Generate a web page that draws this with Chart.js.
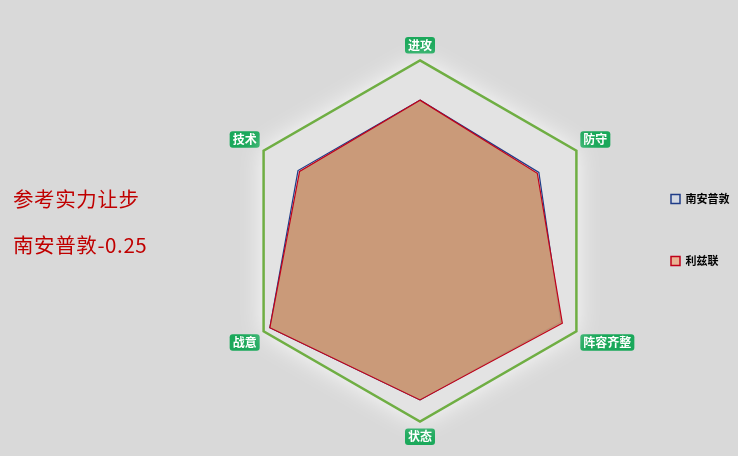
<!DOCTYPE html>
<html>
<head>
<meta charset="utf-8">
<script src="https://cdn.jsdelivr.net/npm/chart.js@4.4.0/dist/chart.umd.min.js"></script>
<style>
  html, body { margin: 0; padding: 0; background: #d9d9d9; }
  #wrap { position: relative; width: 738px; height: 456px; }
  #note { position: absolute; left: 13px; top: 175px; color: #c00000; letter-spacing: 0.6px;
          font-family: "Noto Sans CJK SC", sans-serif; font-size: 20.5px; line-height: 46px; }
</style>
</head>
<body>
<div id="wrap">
  <canvas id="chartContainer" width="738" height="456"></canvas>
  <div id="note">参考实力让步<br>南安普敦-0.25</div>
</div>
<script>
"use strict";

// 1: data
let _labels = ['进攻', '防守', '阵容齐整', '状态', '战意', '技术'];
let _southampton = [78, 76, 90, 88, 96, 78];
let _leeds = [78, 75, 91, 88, 96, 77];
let _max = 100;

// glow behind the outer hexagon
const hexGlow = {
  id: 'hexGlow',
  beforeDatasetsDraw(chart) {
    const scale = chart.scales.r;
    const ctx = chart.ctx;
    const dist = scale.getDistanceFromCenterForValue(_max);
    ctx.save();
    ctx.beginPath();
    for (let i = 0; i < _labels.length; i++) {
      const p = scale.getPointPosition(i, dist);
      if (i === 0) ctx.moveTo(p.x, p.y); else ctx.lineTo(p.x, p.y);
    }
    ctx.closePath();
    ctx.fillStyle = '#e3e3e3';
    ctx.shadowColor = 'rgba(255,255,255,0.95)';
    ctx.shadowBlur = 26;
    ctx.fill();
    ctx.shadowBlur = 0;
    ctx.strokeStyle = '#6fae43';
    ctx.lineWidth = 2.5;
    ctx.stroke();
    ctx.restore();
  }
};

let chart = new Chart(document.getElementById('chartContainer'), {
  type: 'radar',
  data: {
    labels: _labels,
    datasets: [{
      label: '南安普敦',
      data: _southampton,
      order: 1,
      borderColor: '#1f3c88',
      backgroundColor: 'rgba(180,190,220,0.15)',
      borderWidth: 1.2,
      pointRadius: 0
    }, {
      label: '利兹联',
      data: _leeds,
      order: 0,
      borderColor: '#c0001a',
      backgroundColor: 'rgba(200,148,112,0.92)',
      borderWidth: 1.2,
      pointRadius: 0
    }]
  },
  options: {
    responsive: false,
    animation: false,
    layout: { padding: { left: 180, top: 38, right: 0, bottom: 12 } },
    plugins: {
      legend: {
        position: 'right',
        align: 'center',
        maxWidth: 77,
        title: { display: true, text: ' ', font: { size: 10 }, padding: { top: 3.5, bottom: 3.5 } },
        labels: {
          font: { size: 11, weight: 'bold', family: 'Noto Sans CJK SC', lineHeight: 52 / 11 },
          boxWidth: 9,
          boxHeight: 9,
          padding: 10,
          generateLabels(chart) {
            return [
              { text: ['南安普敦'], fillStyle: '#d3d8e2', strokeStyle: '#1f3c88', lineWidth: 1.5, fontColor: '#000', datasetIndex: 0 },
              { text: ['利兹联'], fillStyle: '#e8b394', strokeStyle: '#c0001a', lineWidth: 1.5, fontColor: '#000', datasetIndex: 1 }
            ];
          }
        }
      },
      tooltip: { enabled: false }
    },
    scales: {
      r: {
        min: 0,
        max: _max,
        ticks: { display: false, stepSize: 20 },
        angleLines: { display: false },
        grid: { color: 'transparent' },
        pointLabels: {
          color: '#fff',
          font: { size: 12, weight: 'bold', family: 'Noto Sans CJK SC' },
          backdropColor: '#1aa85a',
          backdropPadding: { top: 1, bottom: 1, left: 3, right: 3 },
          borderRadius: 3,
          padding: 8
        }
      }
    }
  },
  plugins: [hexGlow]
});
</script>
</body>
</html>
